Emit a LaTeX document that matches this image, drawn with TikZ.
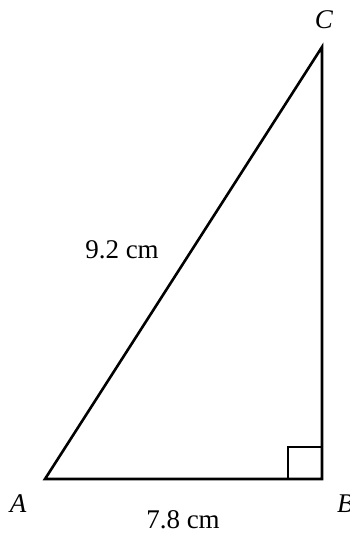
\documentclass[tikz,border=0pt]{standalone}
\usepackage{fontspec}
\setmainfont{Liberation Serif}
\begin{document}
\begin{tikzpicture}[x=1pt,y=-1pt,
  lbl/.style={inner sep=0pt, anchor=base, font=\fontsize{27}{32}\selectfont},
  side/.style={line width=2.6pt, line join=miter},
  rightmark/.style={line width=1.2pt}]
\useasboundingbox (0,0) rectangle (349,533);
\coordinate (A) at (45,479);
\coordinate (B) at (322,479);
\coordinate (C) at (322,47);
\coordinate (S1) at (288,479);
\coordinate (S2) at (288,447);
\coordinate (S3) at (322,447);
\draw[rightmark] (S1) -- (S2) -- (S3);
\draw[side] (A) -- (B) -- (C) -- cycle;
\node[lbl] (la) at (18,512) {\itshape A};
\node[lbl, anchor=base west] (lb) at (337,512) {\itshape B};
\node[lbl] (lc) at (324,28) {\itshape C};
\node[lbl] (lh) at (122,258) {9.2 cm};
\node[lbl] (lbase) at (183,528) {7.8 cm};
\end{tikzpicture}
\end{document}
